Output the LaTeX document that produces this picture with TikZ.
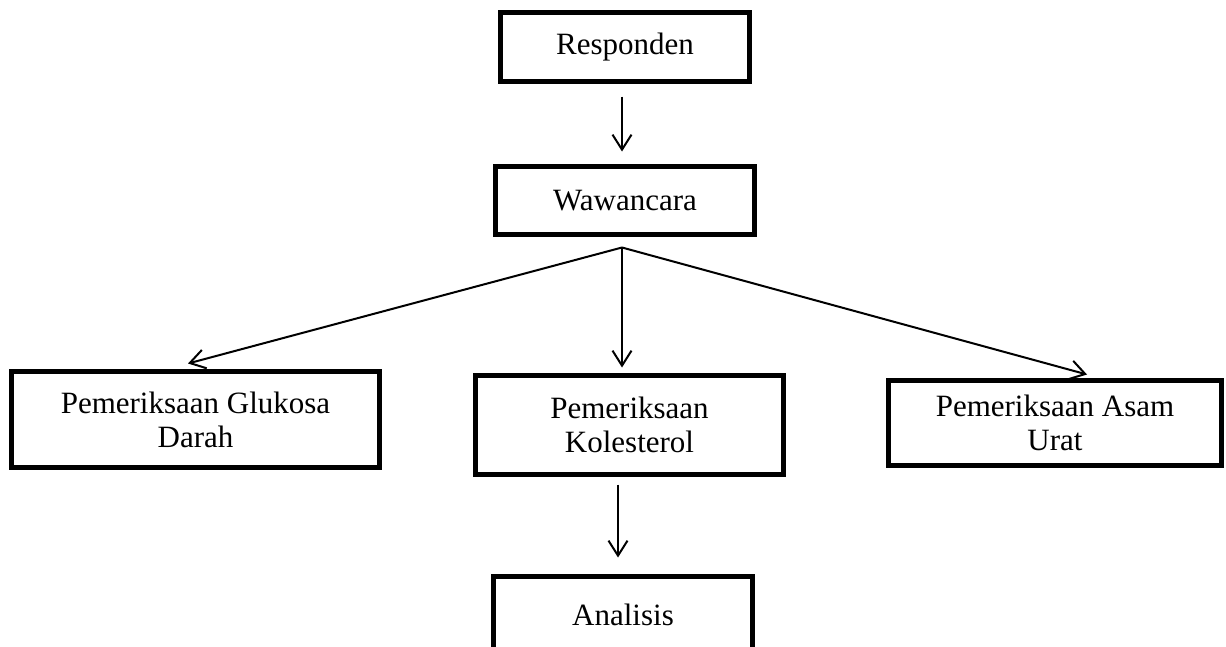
\documentclass[tikz,border=0pt]{standalone}
\usepackage{fontspec}
\setmainfont{Liberation Serif}
\usetikzlibrary{arrows.meta,calc}
\tikzset{
  box/.style={draw=black, line width=5pt, rectangle, inner sep=0pt, align=center,
    font=\fontsize{31}{34}\selectfont},
  arr/.style={draw=black, line width=2pt, -{Straight Barb[length=15pt,width=19pt,line width=2pt]}},
}
\begin{document}
\begin{tikzpicture}[x=1pt,y=-1pt]
\clip (0,0) rectangle (1226,646);
\fill[white] (0,0) rectangle (1226,646);
\node[box, minimum width=249pt, minimum height=69pt] (resp) at (625,47) {Responden};
\node[box, minimum width=259pt, minimum height=68pt] (waw) at (625,200.5) {Wawancara};
\node[box, minimum width=368pt, minimum height=96pt] (gluk) at (195.5,419.5) {Pemeriksaan Glukosa\\Darah};
\node[box, minimum width=308pt, minimum height=99pt] (kol) at (629.5,425) {Pemeriksaan\\Kolesterol};
\node[box, minimum width=333pt, minimum height=85pt] (asam) at (1055,423) {Pemeriksaan Asam\\Urat};
\node[box, minimum width=259pt, minimum height=76pt] (anal) at (623,614.5) {Analisis};
\coordinate (apex) at ($(waw.south)+(-3,10.5)$);
\draw[arr] ([shift={(-3,12.5)}]resp.south) -- ([shift={(-3,-12.5)}]waw.north);
\draw[arr] (apex) -- ([shift={(-7.5,-5.5)}]gluk.north);
\draw[arr] (apex) -- ([shift={(-7.5,-5.5)}]kol.north);
\draw[arr] (apex) -- ([shift={(32,-3.5)}]asam.north);
\draw[arr] ([shift={(-11.5,7.5)}]kol.south) -- ([shift={(-5,-16.5)}]anal.north);
\end{tikzpicture}
\end{document}
